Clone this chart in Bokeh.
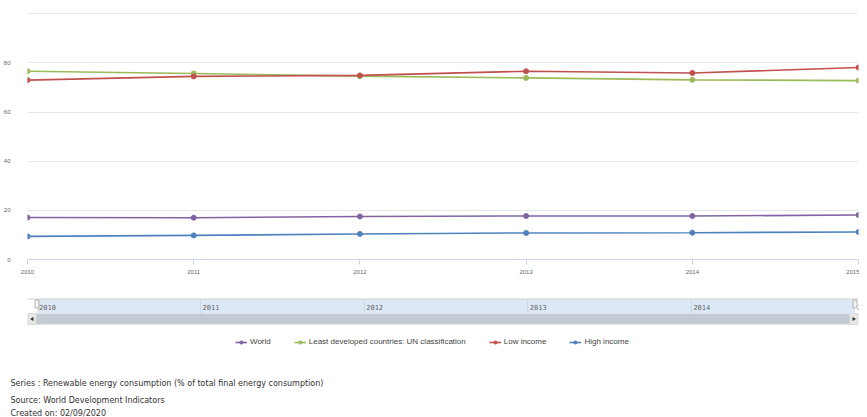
from bokeh.plotting import figure
from bokeh.models import Range1d, FixedTicker, Legend, LegendItem, Title
from bokeh.layouts import column
from bokeh.embed import file_html
from bokeh.resources import INLINE
from bokeh.core.properties import value

# ---------------- data ----------------
years = [2010, 2011, 2012, 2013, 2014, 2015]
world = [17.1, 17.0, 17.5, 17.7, 17.7, 18.1]
ldc = [76.6, 75.7, 74.6, 73.9, 73.1, 72.8]
low_income = [73.0, 74.5, 74.9, 76.6, 75.9, 78.1]
high_income = [9.4, 9.8, 10.4, 10.8, 10.9, 11.2]
series_names = ["World", "Least developed countries: UN classification", "Low income", "High income"]
series_values = [world, ldc, low_income, high_income]
series_colors = ["#8064a2", "#9bbb59", "#c0504d", "#4f81bd"]
y_ticks = [0, 20, 40, 60, 80, 100]
footer_lines = [
    "Series : Renewable energy consumption (% of total final energy consumption)",
    "Source: World Development Indicators",
    "Created on: 02/09/2020",
]

AX_FONT = "Liberation Sans"
W, BL, BR = 859, 23, 1
FW = W - BL - 7   # frame width after the last x label's overhang

# ---------------- main chart ----------------
p = figure(width=W, height=284, min_border_left=BL, min_border_right=BR,
           min_border_top=12, min_border_bottom=25,
           x_range=Range1d(years[0], years[-1]), y_range=Range1d(0, 100.5),
           output_backend="svg", toolbar_location=None, tools="")
p.outline_line_color = None
p.xgrid.visible = False
p.ygrid.grid_line_color = "#e6e6e6"
p.ygrid.ticker = FixedTicker(ticks=y_ticks)

p.yaxis.ticker = FixedTicker(ticks=y_ticks)
p.yaxis.major_label_overrides = {100: ""}
p.yaxis.axis_line_color = None
p.yaxis.major_tick_line_color = None
p.yaxis.minor_tick_line_color = None
p.yaxis.major_label_standoff = 11
p.yaxis.major_label_text_font = AX_FONT
p.yaxis.major_label_text_font_size = "6px"
p.yaxis.major_label_text_color = "#666666"

p.xaxis.ticker = FixedTicker(ticks=years)
p.xaxis.axis_line_color = "#ccd6eb"
p.xaxis.major_tick_line_color = "#ccd6eb"
p.xaxis.major_tick_out = 5
p.xaxis.major_tick_in = 0
p.xaxis.minor_tick_line_color = None
p.xaxis.major_label_standoff = 5
p.xaxis.major_label_text_font = AX_FONT
p.xaxis.major_label_text_font_size = "6px"
p.xaxis.major_label_text_color = "#666666"

for vals, col in zip(series_values, series_colors):
    p.line(years, vals, line_color=col, line_width=1.6)
    p.scatter(years, vals, size=5, fill_color=col, line_color=col)

# ---------------- navigator + legend + footer ----------------
FH = 87
left_px, right_px = 9.5, FW - 3.5       # 2010 / 2015 positions inside the frame
px_per_year = (right_px - left_px) / (years[-1] - years[0])
nav_start = years[0] - left_px / px_per_year
nav_end = nav_start + FW / px_per_year

bot = figure(width=W, frame_height=FH, min_border_left=BL, min_border_right=BR,
             min_border_top=0, min_border_bottom=0,
             x_range=Range1d(nav_start, nav_end), y_range=Range1d(FH, 0),
             x_axis_type=None, y_axis_type=None,
             output_backend="svg", toolbar_location=None, tools="")
bot.outline_line_color = None
bot.xgrid.visible = False
bot.ygrid.visible = False
bot.extra_x_ranges = {"px": Range1d(0, FW)}

# scrollbar track + buttons
bot.quad(left=[0], right=[FW], top=[29], bottom=[40], fill_color="#c3cad2",
         line_color=None, x_range_name="px")
bot.quad(left=[0.5], right=[9], top=[29], bottom=[40], fill_color="#e6e6e6",
         line_color="#cccccc", line_width=0.5, x_range_name="px")
bot.quad(left=[FW - 9], right=[FW - 0.5], top=[29], bottom=[40], fill_color="#e6e6e6",
         line_color="#cccccc", line_width=0.5, x_range_name="px")
bot.scatter([4.8], [34.5], marker="triangle", angle=1.5708, size=4,
            fill_color="#333333", line_color=None, x_range_name="px")
bot.scatter([FW - 4.8], [34.5], marker="triangle", angle=-1.5708, size=4,
            fill_color="#333333", line_color=None, x_range_name="px")

# selected range band
bot.quad(left=[years[0]], right=[years[-1]], top=[15], bottom=[29],
         fill_color="#dce8f6", line_color=None)
bot.segment(x0=years[1:-1], y0=[15] * (len(years) - 2), x1=years[1:-1], y1=[29] * (len(years) - 2),
            line_color="#c8d6e6", line_width=1)
bot.segment(x0=[0], y0=[14.5], x1=[FW], y1=[14.5], line_color="#cccccc", line_width=1,
            x_range_name="px")
bot.text(x=years, y=[22] * len(years), text=[str(y) for y in years], x_offset=2,
         text_baseline="middle", text_align="left", text_font=value("DejaVu Sans Mono"),
         text_font_size="7px", text_color="#666666")
# handles
bot.rect(x=[years[0], years[-1]], y=[19.5, 19.5], width=4, height=8, width_units="screen",
         fill_color="#f2f2f2", line_color="#999999", line_width=0.7)

# legend: renderers styled like the series, with no visible data
nan = float("nan")
items = []
for name, col in zip(series_names, series_colors):
    r1 = bot.line(x=[nan, nan], y=[nan, nan], line_color=col, line_width=1.6)
    r2 = bot.scatter(x=[nan], y=[nan], size=5, fill_color=col, line_color=col)
    items.append(LegendItem(label=value(name), renderers=[r1, r2]))
legend = Legend(items=items, orientation="horizontal", location=(208, 25),
                glyph_width=12, glyph_height=8, label_height=8, label_standoff=3,
                spacing=23, padding=1, margin=0,
                border_line_color=None, background_fill_alpha=0,
                label_text_font=AX_FONT, label_text_font_size="8px",
                label_text_color="#444444")
bot.add_layout(legend, "center")

# footer lines as titles below the panel
standoffs = [10, 2, 2]
for line, so in zip(footer_lines, standoffs):
    bot.add_layout(Title(text=line, align="left", offset=-17, standoff=so,
                         text_font="DejaVu Sans", text_font_size="8px",
                         text_font_style="normal", text_color="#333333"), "below")

layout = column(p, bot, spacing=0)
open("out.html", "w").write(file_html(layout, INLINE))
